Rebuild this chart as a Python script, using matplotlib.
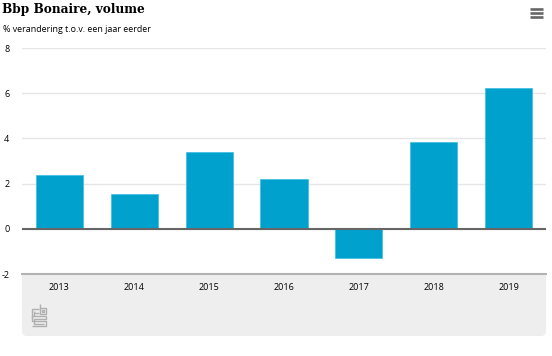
import matplotlib
matplotlib.use('Agg')
from matplotlib import pyplot as plt
from matplotlib.patches import FancyBboxPatch, Rectangle

W, H = 552, 356

years = ['2013', '2014', '2015', '2016', '2017', '2018', '2019']
volume = [2.4, 1.55, 3.4, 2.2, -1.3, 3.85, 6.25]
yticks = [-2, 0, 2, 4, 6, 8]
ylabels = ['-2', '0', '2', '4', '6', '8']

fig = plt.figure(figsize=(W / 100, H / 100), dpi=100, facecolor='white')

# overlay in pixel coordinates for panel, logo and icon
bg = fig.add_axes([0, 0, 1, 1])
bg.set_xlim(0, W)
bg.set_ylim(H, 0)
bg.axis('off')

# grey footer with rounded bottom corners, top hidden by the white block
bg.add_patch(FancyBboxPatch((22, 250), 524, 86, boxstyle='round,pad=0,rounding_size=5',
                            fc='#eeeeee', ec='none', zorder=1))
bg.add_patch(Rectangle((0, 0), W, 274, fc='white', ec='none', zorder=1.5))

# menu icon
for y in [9, 13, 17]:
    bg.plot([530, 543], [y, y], color='#666666', lw=1.9, solid_capstyle='butt', zorder=3)

# cbs logo, built from thin strokes
logo = [
    ([31.5, 31.5, 38.5], [318, 308.5, 308.5]),
    ([33.5, 38.5], [313, 313]),
    ([33.5, 33.5], [310.5, 316]),
    ([40, 40, 45.5, 45.5, 40], [304, 313.5, 313.5, 308, 308]),
    ([42, 43.5, 43.5, 42, 42], [310, 310, 311.5, 311.5, 310]),
    ([45.5, 31.5, 31.5, 45.5, 45.5, 31.5], [315.5, 315.5, 320.5, 320.5, 325.5, 325.5]),
    ([45.5, 45.5, 33.5, 33.5, 43.5], [315.5, 318.5, 318.5, 323.5, 323.5]),
]
for xs, ys in logo:
    bg.plot(xs, ys, color='#b0b0b0', lw=1.0, solid_capstyle='butt', zorder=3)

ax = fig.add_axes([22 / W, 1 - 274 / H, 524 / W, 226 / H])
ax.patch.set_alpha(0)
ax.set_xlim(-0.5, len(years) - 0.5)
ax.set_ylim(-2, 8)
ax.bar(years, volume, width=0.63, color='#00a1cd', edgecolor='#3bbde0', linewidth=0.5, zorder=2)

ax.set_yticks(yticks)
ax.set_yticklabels(ylabels)
ax.grid(axis='y', color='#e6e6e6', lw=1, zorder=1)
ax.axhline(0, color='#666666', lw=1.5, zorder=3)
for s in ['top', 'left', 'right']:
    ax.spines[s].set_visible(False)
ax.spines['bottom'].set_color('#b3b3b3')
ax.spines['bottom'].set_linewidth(1.5)
ax.tick_params(axis='both', length=0, labelsize=6.5, labelcolor='black')
ax.tick_params(axis='x', pad=6.5)
ax.tick_params(axis='y', pad=9)
for lab in ax.get_xticklabels() + ax.get_yticklabels():
    lab.set_family('Open Sans')

fig.text(2 / W, 1 - 10 / H, 'Bbp Bonaire, volume', family='DejaVu Serif',
         fontweight='bold', fontsize=8.7, va='center', ha='left', color='black')
fig.text(3 / W, 1 - 30 / H, '% verandering t.o.v. een jaar eerder', family='Open Sans',
         fontsize=6.4, va='center', ha='left', color='black')

fig.savefig('out.png', dpi=100)
